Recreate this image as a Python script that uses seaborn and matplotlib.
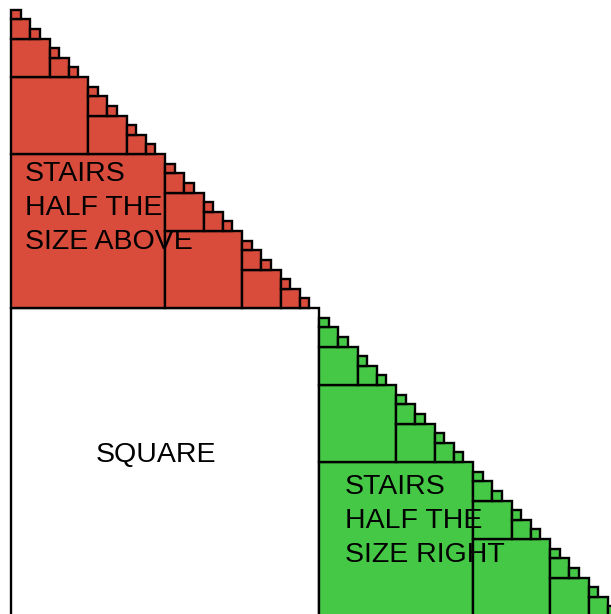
import matplotlib
matplotlib.use("Agg")
import matplotlib.pyplot as plt
import seaborn as sns
from matplotlib.patches import Rectangle

# Regions of the staircase and their labels
regions = ["above", "right"]
region_colors = ["#d94c3c", "#45c845"]
region_labels = ["STAIRS\nHALF THE\nSIZE ABOVE", "STAIRS\nHALF THE\nSIZE RIGHT"]
square_label = "SQUARE"

sns.set_style("white")
plt.rcParams['font.family'] = ['Liberation Sans', 'DejaVu Sans']

fig = plt.figure(figsize=(6.11, 6.14), dpi=100)
ax = fig.add_axes([0, 0, 1, 1])
ax.set_xlim(0, 611)
ax.set_ylim(614, 0)
ax.axis("off")

MIN_SQ = 9
LW = 1.7


def square(x, ybot, h, color):
    ax.add_patch(Rectangle((x, ybot - h), h, h, facecolor=color,
                           edgecolor="black", linewidth=LW))


def stairs(x, ybot, size, color):
    # square at bottom-left, half-size stairs above and to the right
    h = size / 2
    if h < MIN_SQ:
        return
    square(x, ybot, h, color)
    stairs(x, ybot - h, h, color)
    stairs(x + h, ybot, h, color)


x0, y0, S = 11, 616, 616
half = S / 2
square(x0, y0, half, "white")
stairs(x0, y0 - half, half, region_colors[0])
stairs(x0 + half, y0, half, region_colors[1])

ax.text(156, 455, square_label, fontsize=20.5, ha="center", va="center",
        color="black")
ax.text(25, 208, region_labels[0], fontsize=20.5, ha="left", va="center",
        linespacing=1.42, color="black")
ax.text(345, 521, region_labels[1], fontsize=20.5, ha="left", va="center",
        linespacing=1.42, color="black")

fig.savefig("out.png", dpi=100)
